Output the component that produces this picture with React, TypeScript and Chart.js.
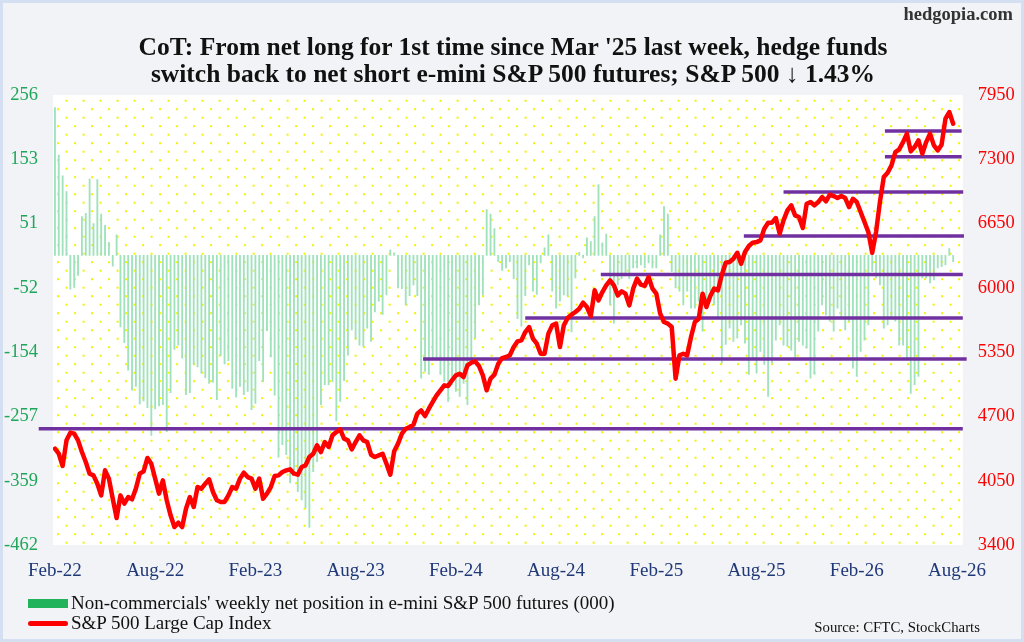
import { useEffect, useRef } from "react";
import { Chart, registerables } from "chart.js";

Chart.register(...registerables);

const FONT = "'Liberation Serif', 'Times New Roman', serif";

const xTickLabels = ["Feb-22", "Aug-22", "Feb-23", "Aug-23", "Feb-24", "Aug-24", "Feb-25", "Aug-25", "Feb-26", "Aug-26"];
const leftTickLabels = [-462, -359, -257, -154, -52, 51, 153, 256];
const rightTickLabels = [3400, 4050, 4700, 5350, 6000, 6650, 7300, 7950];

// weekly net position of non-commercials (000 contracts), oldest first
const netPosition = [
  236, 160, 127, 102, -54, -51, -32, 62, 67, 122,
  51, 121, 66, 48, 21, -17, 33, -114, -139, -183,
  -215, -209, -237, -232, -243, -287, -245, -240, -238, -281,
  -219, -150, -143, -164, -222, -219, -174, -178, -188, -195,
  -204, -202, -230, -160, -173, -168, -212, -226, -209, -222,
  -217, -246, -236, -168, -201, -120, -162, -223, -322, -302,
  -318, -363, -350, -377, -390, -403, -434, -345, -329, -238,
  -206, -206, -201, -264, -233, -200, -159, -119, -133, -143,
  -145, -116, -137, -90, -73, -94, -63, 9, 4, -52,
  -53, -79, -64, -47, -64, -196, -185, -190, -164, -167,
  -190, -201, -233, -206, -217, -225, -204, -238, -164, -132,
  -79, -63, 73, 66, 43, -10, -24, -20, -10, -37,
  -101, -113, -64, -15, -57, -62, -12, 12, 33, -57,
  -84, -73, -63, -65, -122, -36, 5, -4, 28, 22,
  62, 113, 20, 34, -79, -108, -47, -37, -29, -37,
  -20, -20, -15, -20, -12, -20, -20, 33, 78, 66,
  -26, -52, -57, -79, -57, -84, -84, -73, -121, -84,
  -57, -79, -101, -172, -142, -116, -137, -132, -111, -140,
  -190, -164, -188, -153, -174, -225, -172, -135, -111, -143,
  -145, -151, -164, -137, -143, -148, -196, -190, -121, -79,
  -95, -105, -121, -84, -100, -119, -105, -180, -193, -153,
  -135, -111, -26, -36, -47, -116, -111, -100, -105, -143,
  -143, -164, -220, -206, -193, -36, -36, -44, -39, -20,
  -18, -15, 11, -10,
];

// S&P 500 weekly close
const spx = [
  4374, 4323, 4199, 4458, 4536, 4526, 4458, 4340, 4239, 4121,
  4104, 4020, 3902, 4155, 4071, 3868, 3673, 3902, 3818, 3885,
  3862, 3970, 4121, 4145, 4280, 4222, 4071, 3919, 4054, 3852,
  3700, 3582, 3626, 3582, 3767, 3885, 3784, 3986, 3970, 4020,
  4064, 3936, 3852, 3835, 3835, 3902, 3986, 3970, 4071, 4131,
  4087, 4071, 3970, 4071, 3868, 3919, 3986, 4097, 4104, 4138,
  4155, 4165, 4121, 4111, 4189, 4205, 4290, 4323, 4408, 4340,
  4441, 4391, 4509, 4542, 4569, 4475, 4458, 4367, 4441, 4509,
  4458, 4441, 4313, 4290, 4306, 4323, 4222, 4111, 4347, 4425,
  4526, 4576, 4593, 4617, 4728, 4761, 4704, 4778, 4846, 4913,
  4964, 5014, 5007, 5065, 5115, 5132, 5098, 5216, 5243, 5257,
  5210, 5115, 4964, 5082, 5122, 5233, 5290, 5301, 5318, 5402,
  5459, 5469, 5553, 5604, 5486, 5435, 5334, 5334, 5537, 5621,
  5638, 5402, 5621, 5695, 5729, 5756, 5789, 5850, 5806, 5715,
  5975, 5874, 5958, 6025, 6076, 6025, 5924, 5965, 5941, 5823,
  5992, 6093, 6032, 6019, 6110, 5992, 5941, 5739, 5655, 5638,
  5604, 5082, 5318, 5334, 5318, 5503, 5655, 5688, 5941, 5806,
  5917, 5992, 5975, 6133, 6254, 6261, 6295, 6355, 6244, 6362,
  6423, 6457, 6463, 6480, 6598, 6659, 6659, 6706, 6548, 6682,
  6783, 6834, 6733, 6716, 6605, 6851, 6868, 6834, 6868, 6918,
  6875, 6942, 6928, 6908, 6928, 6908, 6817, 6901, 6868, 6767,
  6666, 6564, 6355, 6564, 6868, 7120, 7164, 7238, 7373, 7400,
  7474, 7559, 7380, 7424, 7491, 7356, 7474, 7559, 7441, 7390,
  7448, 7710, 7778, 7660,
];

// horizontal S&P 500 levels, with the week where each one starts / ends
const levelValues = [4575, 5280, 5695, 6135, 6525, 6970, 7325, 7585];
const levelStart = [-4.2, 95.5, 122, 141.6, 178.7, 189, 215.3, 215.3];
const levelEnd = [235.5, 236.5, 235.5, 235.5, 235.8, 235.6, 235.2, 235.2];

const WEEKS_PER_TICK = 26;

const backdrop = {
  id: "backdrop",
  beforeDraw(chart: any) {
    const { ctx, chartArea: a, width, height } = chart;
    ctx.save();
    ctx.fillStyle = "#f2f3f6";
    ctx.fillRect(0, 0, width, height);
    ctx.fillStyle = "#ffffff";
    ctx.fillRect(a.left, a.top, a.right - a.left, a.bottom - a.top);
    // yellow dotted pattern
    ctx.fillStyle = "#f2f200";
    let row = 0;
    for (let y = a.top + 5.7; y < a.bottom - 2; y += 8.5, row++) {
      const start = a.left + (row % 2 === 0 ? 13.6 : 5.1);
      for (let x = start; x < a.right - 2; x += 17) {
        ctx.fillRect(x - 1, y - 1, 2, 2);
      }
    }
    ctx.strokeStyle = "#d4e0f1";
    ctx.lineWidth = 3;
    ctx.strokeRect(1.5, 1.5, width - 3, height - 3);
    ctx.restore();
  },
};

function CotChart() {
  const canvasRef = useRef<any>(null);

  useEffect(() => {
    if (!canvasRef.current) return;
    const ctx = canvasRef.current.getContext("2d");

    const levelSets = levelValues.map((v, k) => ({
      type: "line" as const,
      data: [
        { x: levelStart[k], y: v },
        { x: levelEnd[k], y: v },
      ],
      yAxisID: "yR",
      borderColor: "#7030a0",
      borderWidth: 3.5,
      pointRadius: 0,
      clip: false as any,
      order: 1,
    }));

    const chart = new Chart(ctx, {
      type: "bar",
      data: {
        datasets: [
          {
            type: "line",
            label: "S&P 500 Large Cap Index",
            data: spx.map((v, i) => ({ x: i, y: v })),
            yAxisID: "yR",
            borderColor: "#ff0000",
            borderWidth: 4.5,
            borderJoinStyle: "round",
            borderCapStyle: "round",
            pointRadius: 0,
            tension: 0,
            order: 0,
          },
          ...levelSets,
          {
            type: "bar",
            label: "Non-commercials' weekly net position in e-mini S&P 500 futures (000)",
            data: netPosition.map((v, i) => ({ x: i, y: v })),
            yAxisID: "yL",
            backgroundColor: "rgb(160, 226, 188)",
            barThickness: 1.2,
            order: 2,
          },
        ] as any,
      },
      plugins: [backdrop],
      options: {
        animation: false,
        responsive: true,
        maintainAspectRatio: false,
        layout: { padding: { top: 95, bottom: 57, left: 0, right: 0 } },
        plugins: {
          legend: { display: false },
          title: { display: false },
          tooltip: { enabled: false },
        },
        scales: {
          x: {
            type: "linear",
            offset: false,
            min: -0.5,
            max: 235.5,
            grid: { display: false, drawTicks: false, offset: false },
            border: { display: false },
            afterBuildTicks: (s: any) => {
              s.ticks = xTickLabels.map((_, k) => ({ value: k * WEEKS_PER_TICK }));
            },
            afterFit: (s: any) => {
              s.height = 40;
            },
            ticks: {
              autoSkip: false,
              maxRotation: 0,
              padding: 15,
              color: "#1f3877",
              font: { family: FONT, size: 19 },
              callback: (_v: any, idx: number) => xTickLabels[idx],
            },
          },
          yL: {
            type: "linear",
            position: "left",
            min: -462,
            max: 256,
            grid: { display: false, drawTicks: false },
            border: { display: false },
            afterBuildTicks: (s: any) => {
              s.ticks = leftTickLabels.map((_, k) => ({ value: -462 + (k * 718) / 7 }));
            },
            afterFit: (s: any) => {
              s.width = 53;
            },
            ticks: {
              padding: 15,
              color: "#1ea75a",
              font: { family: FONT, size: 18.5 },
              callback: (_v: any, idx: number) => String(leftTickLabels[idx]),
            },
          },
          yR: {
            type: "linear",
            position: "right",
            min: 3400,
            max: 7950,
            grid: { display: false, drawTicks: false },
            border: { display: false },
            afterBuildTicks: (s: any) => {
              s.ticks = rightTickLabels.map((v) => ({ value: v }));
            },
            afterFit: (s: any) => {
              s.width = 61.2;
            },
            ticks: {
              padding: 15,
              color: "#ff0000",
              font: { family: FONT, size: 18.5 },
              callback: (v: any) => String(v),
            },
          },
        },
      },
    });

    return () => chart.destroy();
  }, []);

  return (
    <div style={{ position: "absolute", left: 0, top: 0, width: 1024, height: 642, fontFamily: FONT }}>
      <canvas ref={canvasRef} />
      <div
        style={{
          position: "absolute",
          right: 11,
          top: 2,
          fontSize: 18.5,
          fontWeight: "bold",
          lineHeight: "24px",
          color: "#333",
        }}
      >
        hedgopia.com
      </div>
      <div
        style={{
          position: "absolute",
          left: 0,
          width: 1026,
          top: 33,
          textAlign: "center",
          fontSize: 25.5,
          fontWeight: "bold",
          lineHeight: "27px",
          color: "#111",
        }}
      >
        <div>CoT: From net long for 1st time since Mar '25 last week, hedge funds</div>
        <div>switch back to net short e-mini S&amp;P 500 futures; S&amp;P 500 ↓ 1.43%</div>
      </div>
      <div style={{ position: "absolute", left: 28, top: 593, fontSize: 19, lineHeight: "20px", color: "#111" }}>
        <div style={{ display: "flex", alignItems: "center" }}>
          <span style={{ display: "inline-block", width: 40, height: 9, background: "#21b35c", marginRight: 3 }} />
          Non-commercials' weekly net position in e-mini S&amp;P 500 futures (000)
        </div>
        <div style={{ display: "flex", alignItems: "center" }}>
          <span
            style={{
              display: "inline-block",
              width: 40,
              height: 5,
              borderRadius: 3,
              background: "#ff0000",
              marginRight: 3,
            }}
          />
          S&amp;P 500 Large Cap Index
        </div>
      </div>
      <div style={{ position: "absolute", right: 44, top: 619, fontSize: 14.8, color: "#111" }}>
        Source: CFTC, StockCharts
      </div>
    </div>
  );
}

export default function App() {
  useEffect(() => {
    document.body.style.margin = "0";
  }, []);
  return <CotChart />;
}
